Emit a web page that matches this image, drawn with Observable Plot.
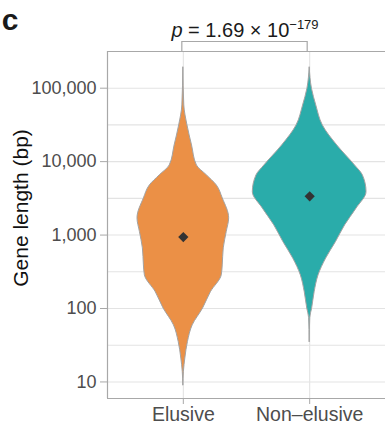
<!DOCTYPE html>
<html>
<head>
<meta charset="utf-8">
<script src="https://cdn.jsdelivr.net/npm/d3@7"></script>
<script src="https://cdn.jsdelivr.net/npm/@observablehq/plot@0.6"></script>
<style>
  html, body { margin: 0; padding: 0; background: #ffffff; }
  #chart svg { display: block; }
</style>
</head>
<body>
<div id="chart"></div>
<script>
// Gene length distributions of elusive vs non-elusive genes (violin profiles).
const categories = ["Elusive", "Non–elusive"];
const medianLength = [940, 3370];
const yTickValues = [10, 100, 1000, 10000, 100000];
const pValueMantissa = "1.69";
const pValueExponent = "−179";

// Violin outline: gene length (bp) and relative density at that length.
const elusiveLength = [9, 13.7, 20.8, 35, 59, 100, 167, 283, 386, 659, 1100, 1690, 3160, 4740, 6490, 8870, 16600, 31100, 58200, 193000];
const elusiveDensity = [0, 0.010, 0.035, 0.081, 0.165, 0.347, 0.485, 0.676, 0.693, 0.711, 0.763, 0.806, 0.693, 0.589, 0.416, 0.239, 0.153, 0.073, 0.017, 0];
const nonElusiveLength = [35, 74, 100, 167, 283, 478, 804, 1360, 2290, 3850, 6490, 8870, 16600, 31100, 58200, 98200, 193000];
const nonElusiveDensity = [0, 0.010, 0.043, 0.087, 0.156, 0.289, 0.463, 0.624, 0.823, 1.0, 0.936, 0.797, 0.485, 0.231, 0.116, 0.040, 0];

const fillColors = ["#EB9046", "#2AACAA"];
const halfWidth = 0.45;

const profiles = [
  [elusiveLength, elusiveDensity],
  [nonElusiveLength, nonElusiveDensity]
];
const violin = [];
profiles.forEach(([lengths, densities], i) => {
  lengths.forEach((len, j) => {
    violin.push({category: categories[i], index: i, length: len, density: densities[j]});
  });
});
const medians = categories.map((c, i) => ({category: c, index: i, length: medianLength[i]}));

// Log-scale gridlines: decades plus half-decade minor lines.
const minorGrid = yTickValues.map(v => v * Math.sqrt(10)).concat([Math.sqrt(10)]);

const yDomain = [5.95, 316000];
const xDomain = [-0.6, 1.6];
const fontFamily = "'Liberation Sans', Arial, Helvetica, sans-serif";

const plot = Plot.plot({
  width: 385,
  height: 427,
  marginLeft: 107,
  marginRight: 0,
  marginTop: 51,
  marginBottom: 29,
  style: {fontFamily, background: "#ffffff", overflow: "visible"},
  x: {type: "linear", domain: xDomain, axis: null},
  y: {type: "log", domain: yDomain, axis: null},
  marks: [
    Plot.ruleY(minorGrid.filter(v => v > yDomain[0] && v < yDomain[1]), {stroke: "#e3e3e3", strokeWidth: 1.1}),
    Plot.ruleY(yTickValues, {stroke: "#e3e3e3", strokeWidth: 1.1}),
    Plot.ruleX([0, 1], {stroke: "#e3e3e3", strokeWidth: 1.1}),
    Plot.areaX(violin, {
      y: "length",
      x1: d => d.index - d.density * halfWidth,
      x2: d => d.index + d.density * halfWidth,
      z: "category",
      fill: d => fillColors[d.index],
      stroke: "#a3a3a3",
      strokeWidth: 1,
      curve: "monotone-y"
    }),
    Plot.dot(medians, {x: "index", y: "length", symbol: "diamond2", r: 4.6, fill: "#333333", stroke: "none"}),
    // panel border: left, top, bottom
    Plot.ruleX([xDomain[0]], {stroke: "#a8a8a8", strokeWidth: 1.2}),
    Plot.ruleY(yDomain, {stroke: "#a8a8a8", strokeWidth: 1.2}),
    Plot.axisY(yTickValues, {
      tickFormat: d3.format(","),
      tickSize: 7,
      tickPadding: 4,
      fontSize: 18,
      stroke: "#a8a8a8",
      fill: "#4d4d4d",
      label: null
    }),
    Plot.axisX([0, 1], {
      tickFormat: i => categories[i],
      tickSize: 6,
      tickPadding: 3,
      fontSize: 19.5,
      stroke: "#a8a8a8",
      fill: "#4d4d4d",
      label: null
    })
  ]
});

document.getElementById("chart").append(plot);

// Annotations: panel letter, y label, significance bracket and p-value.
const svg = d3.select(plot);
const xs = plot.scale("x");
const xPos = v => xs.apply(v);
const panelTop = 51;

svg.append("text")
  .attr("x", 10).attr("y", 30)
  .attr("font-family", fontFamily)
  .attr("font-weight", "bold")
  .attr("font-size", 30)
  .attr("fill", "#1a1a1a")
  .text("c");

svg.append("text")
  .attr("transform", "translate(28,208) rotate(-90)")
  .attr("text-anchor", "middle")
  .attr("font-family", fontFamily)
  .attr("font-size", 21)
  .attr("fill", "#111111")
  .text("Gene length (bp)");

const bx0 = xPos(0), bx1 = xPos(1);
svg.append("path")
  .attr("d", `M${bx0 - 1},${panelTop} V${panelTop - 9.5} H${bx1 - 2} V${panelTop}`)
  .attr("fill", "none")
  .attr("stroke", "#a8a8a8")
  .attr("stroke-width", 1.2);

const title = svg.append("text")
  .attr("x", xPos(0.5) - 1).attr("y", 37)
  .attr("text-anchor", "middle")
  .attr("font-family", fontFamily)
  .attr("font-size", 20)
  .attr("fill", "#1a1a1a");
title.append("tspan").attr("font-style", "italic").text("p");
title.append("tspan").text(` = ${pValueMantissa} × 10`);
title.append("tspan").attr("font-size", 13).attr("dy", -8.5).text(pValueExponent);
</script>
</body>
</html>
